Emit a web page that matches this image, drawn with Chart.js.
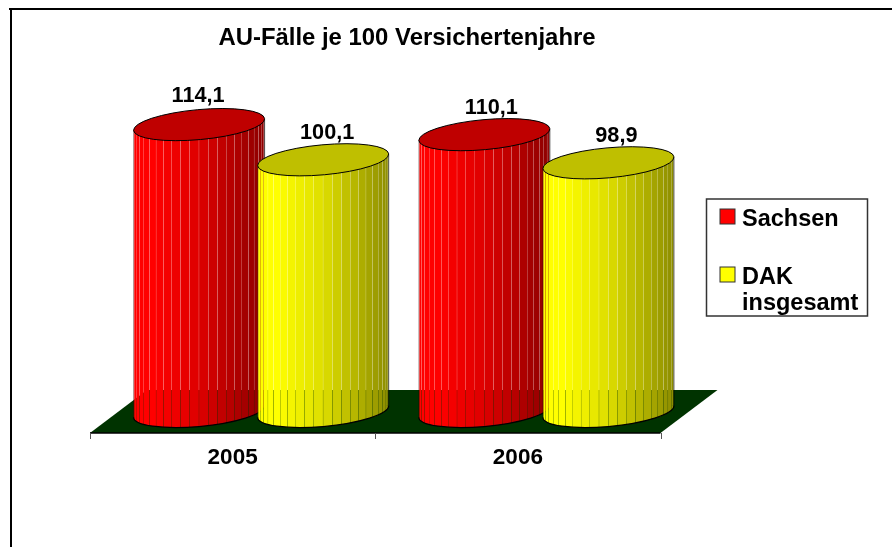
<!DOCTYPE html>
<html>
<head>
<meta charset="utf-8">
<title>AU-Fälle je 100 Versichertenjahre</title>
<script src="https://cdn.jsdelivr.net/npm/chart.js@4/dist/chart.umd.min.js"></script>
<style>
    body { margin: 0; background: #fff; }
    canvas { display: block; }
</style>
</head>
<body>
<canvas id="au-chart" width="892" height="547"></canvas>
<script>
// Chart data
const years = ["2005", "2006"];
const sachsenValues = [114.1, 110.1];
const dakValues = [100.1, 98.9];
const seriesNames = ["Sachsen", "DAK insgesamt"];
const seriesColors = ["#ff0000", "#ffff00"];
const chartTitle = "AU-Fälle je 100 Versichertenjahre";

const FONT = '"Liberation Sans", Arial, sans-serif';

// Offset from the plane the bars stand on to the front edge of the floor
const depthX = 28.5;
const depthY = 21.5;

// Tilt and height of the cylinder ellipses
const tilt = -5.2 * Math.PI / 180;
const ellipseB = 15;
const facets = 22;

// Nudges for the value labels, per series and year
const labelShift = [
    [[-1, -29], [7, -27]],
    [[4, -27], [8, -27]]
];

function shadeColor(hex, f) {
    const r = parseInt(hex.slice(1, 3), 16) * f;
    const g = parseInt(hex.slice(3, 5), 16) * f;
    const b = parseInt(hex.slice(5, 7), 16) * f;
    return `rgb(${Math.round(r)}, ${Math.round(g)}, ${Math.round(b)})`;
}

// Brightness across the cylinder, t goes 0 to 1 from left to right
function shadeAt(t) {
    if (t < 0.15) return 1;
    if (t < 0.5) return 1 - (t - 0.15) / 0.35 * 0.13;
    return 0.87 - (t - 0.5) / 0.5 * 0.32;
}

function drawCylinder(ctx, bar, color) {
    const cx = bar.x;
    const top = bar.y;
    const bottom = bar.base;
    const hw = bar.width / 2;
    const a = hw / Math.cos(tilt);
    const t0 = Math.atan2(-ellipseB * Math.sin(tilt), a * Math.cos(tilt));
    const dy = a * Math.cos(t0) * Math.sin(tilt) + ellipseB * Math.sin(t0) * Math.cos(tilt);

    // Body is a parallelogram plus the bottom ellipse
    ctx.save();
    ctx.beginPath();
    ctx.moveTo(cx - hw, top - dy);
    ctx.lineTo(cx + hw, top + dy);
    ctx.lineTo(cx + hw, bottom + dy);
    ctx.lineTo(cx - hw, bottom - dy);
    ctx.closePath();
    ctx.ellipse(cx, bottom, a, ellipseB, tilt, 0, Math.PI * 2);
    ctx.clip();

    // Facets with hairline gaps, whatever is behind shows through
    for (let i = 0; i < facets; i++) {
        const x1 = cx - hw * Math.cos(i / facets * Math.PI);
        const x2 = cx - hw * Math.cos((i + 1) / facets * Math.PI);
        ctx.fillStyle = shadeColor(color, shadeAt(((x1 + x2) / 2 - (cx - hw)) / (2 * hw)));
        ctx.fillRect(x1, top - 40, x2 - x1 - 0.22, bottom - top + 80);
    }
    ctx.restore();

    // Side edges
    ctx.lineWidth = 1;
    ctx.strokeStyle = "rgba(0, 0, 0, 0.3)";
    ctx.beginPath();
    ctx.moveTo(cx - hw, top - dy);
    ctx.lineTo(cx - hw, bottom - dy);
    ctx.stroke();
    ctx.strokeStyle = "rgba(0, 0, 0, 0.65)";
    ctx.beginPath();
    ctx.moveTo(cx + hw, top + dy);
    ctx.lineTo(cx + hw, bottom + dy);
    ctx.stroke();

    // Bottom curve
    ctx.strokeStyle = "#000";
    ctx.lineWidth = 1.2;
    ctx.beginPath();
    ctx.ellipse(cx, bottom, a, ellipseB, tilt, t0, t0 + Math.PI);
    ctx.stroke();

    // Top ellipse
    ctx.fillStyle = shadeColor(color, 0.75);
    ctx.lineWidth = 1;
    ctx.beginPath();
    ctx.ellipse(cx, top, a, ellipseB, tilt, 0, Math.PI * 2);
    ctx.fill();
    ctx.stroke();
}

function drawFloor(chart) {
    const ctx = chart.ctx;
    const area = chart.chartArea;
    const frontY = area.bottom + depthY;
    const backY = area.bottom - depthY;

    ctx.fillStyle = "#003300";
    ctx.beginPath();
    ctx.moveTo(area.left - depthX, frontY);
    ctx.lineTo(area.right - depthX, frontY);
    ctx.lineTo(area.right + depthX, backY);
    ctx.lineTo(area.left + depthX, backY);
    ctx.closePath();
    ctx.fill();

    // Front axis line and ticks between the years
    ctx.strokeStyle = "#000";
    ctx.lineWidth = 1.5;
    ctx.beginPath();
    ctx.moveTo(area.left - depthX, frontY);
    ctx.lineTo(area.right - depthX, frontY);
    ctx.stroke();

    ctx.strokeStyle = "#555";
    ctx.lineWidth = 1;
    const step = (area.right - area.left) / years.length;
    for (let i = 0; i <= years.length; i++) {
        const x = Math.round(area.left - depthX + step * i) + 0.5;
        ctx.beginPath();
        ctx.moveTo(x, frontY);
        ctx.lineTo(x, frontY + 6);
        ctx.stroke();
    }
}

function drawLegend(chart) {
    const ctx = chart.ctx;
    const swatchY = [209, 267];

    ctx.strokeStyle = "#333";
    ctx.lineWidth = 1.5;
    ctx.strokeRect(706.5, 199, 161, 117);

    ctx.font = `bold 23.5px ${FONT}`;
    ctx.textAlign = "left";
    ctx.textBaseline = "alphabetic";
    chart.data.datasets.forEach((dataset, i) => {
        ctx.fillStyle = dataset.backgroundColor;
        ctx.strokeStyle = "#333";
        ctx.lineWidth = 1;
        ctx.fillRect(720, swatchY[i], 15, 15);
        ctx.strokeRect(720, swatchY[i], 15, 15);

        ctx.fillStyle = "#000";
        dataset.label.split(" ").forEach((word, line) => {
            ctx.fillText(word, 742, swatchY[i] + 16.5 + line * 26);
        });
    });
}

// Draws floor, cylinders, value labels, legend and the page frame
const cylinderPlugin = {
    id: "cylinders",
    beforeDraw(chart) {
        const ctx = chart.ctx;
        ctx.fillStyle = "#000";
        ctx.fillRect(9, 8, 883, 2);
        ctx.fillRect(10, 8, 2, 539);
    },
    beforeDatasetsDraw(chart) {
        const ctx = chart.ctx;
        drawFloor(chart);

        chart.data.datasets.forEach((dataset, i) => {
            chart.getDatasetMeta(i).data.forEach((bar) => {
                drawCylinder(ctx, bar, dataset.backgroundColor);
            });
        });

        ctx.fillStyle = "#000";
        ctx.font = `bold 21.7px ${FONT}`;
        ctx.textAlign = "center";
        ctx.textBaseline = "middle";
        chart.data.datasets.forEach((dataset, i) => {
            chart.getDatasetMeta(i).data.forEach((bar, j) => {
                const text = dataset.data[j].toFixed(1).replace(".", ",");
                ctx.fillText(text, bar.x + labelShift[i][j][0], bar.y + labelShift[i][j][1]);
            });
        });

        drawLegend(chart);
        return false;
    }
};

const auCanvas = document.getElementById("au-chart");

let auChart = new Chart(auCanvas, {
    type: "bar",
    data: {
        labels: years,
        datasets: [
            { label: seriesNames[0], data: sachsenValues, backgroundColor: seriesColors[0] },
            { label: seriesNames[1], data: dakValues, backgroundColor: seriesColors[1] }
        ]
    },
    options: {
        responsive: false,
        animation: false,
        layout: { padding: { left: 0, right: 78, top: 0, bottom: 0 } },
        datasets: {
            bar: { categoryPercentage: 0.87, barPercentage: 1.056 }
        },
        scales: {
            x: {
                grid: { display: false, drawTicks: false },
                border: { display: false },
                ticks: {
                    color: "#000",
                    font: { family: FONT, size: 22.5, weight: "bold" },
                    labelOffset: -depthX,
                    padding: 33,
                    maxRotation: 0
                },
                afterFit(scale) { scale.height = 135.5; }
            },
            y: {
                min: 0,
                max: 142.7,
                grid: { display: false },
                border: { display: false },
                ticks: { display: false },
                afterFit(scale) { scale.width = 118.5; }
            },
            // Empty axis, only keeps room for the legend
            yRight: {
                position: "right",
                grid: { display: false },
                border: { display: false },
                ticks: { display: false },
                afterFit(scale) { scale.width = 125; }
            }
        },
        plugins: {
            legend: { display: false },
            tooltip: { enabled: false },
            title: {
                display: true,
                text: chartTitle,
                color: "#000",
                font: { family: FONT, size: 23.9, weight: "bold" },
                padding: { top: 24, bottom: 0 }
            }
        }
    },
    plugins: [cylinderPlugin]
});
</script>
</body>
</html>
